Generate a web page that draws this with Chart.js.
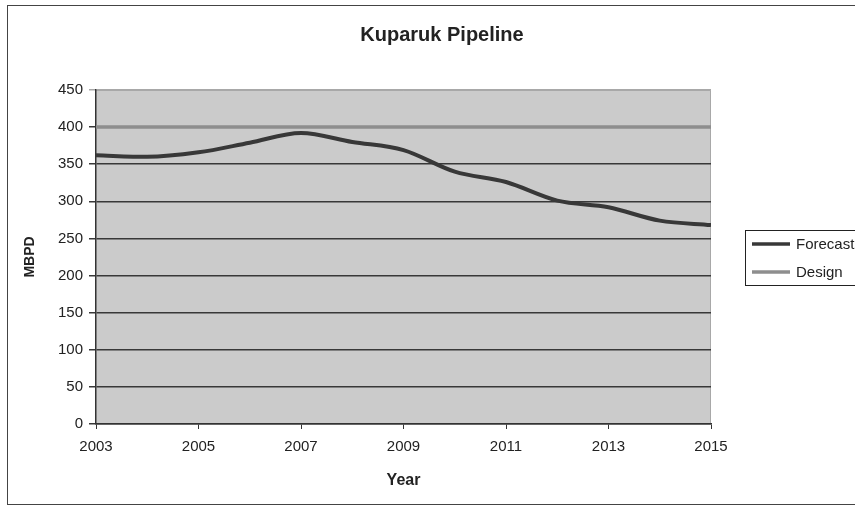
<!DOCTYPE html>
<html>
<head>
<meta charset="utf-8">
<script src="https://cdn.jsdelivr.net/npm/chart.js@4.4.0/dist/chart.umd.min.js"></script>
<style>
    html, body { margin: 0; padding: 0; background: #fff; overflow: hidden; }
    #frame {
        position: absolute;
        left: 7px;
        top: 5px;
        width: 870px;
        height: 500px;
        border: 1px solid #444;
        box-sizing: border-box;
    }
    #frame canvas { display: block; }
</style>
</head>
<body>
<div id="frame">
    <canvas id="pipelineChart" width="868" height="498"></canvas>
</div>
<script>
const years = [2003, 2004, 2005, 2006, 2007, 2008, 2009, 2010, 2011, 2012, 2013, 2014, 2015];
const forecast = [362, 360, 366, 379, 392, 380, 369, 340, 326, 301, 292, 274, 268];
const design = [400, 400, 400, 400, 400, 400, 400, 400, 400, 400, 400, 400, 400];
const yTicks = [0, 50, 100, 150, 200, 250, 300, 350, 400, 450];
const xTicks = [2003, 2005, 2007, 2009, 2011, 2013, 2015];

const seriesNames = ['Forecast', 'Design'];
const seriesColors = ['#383838', '#8e8e8e'];
const FONT = '"Liberation Sans", Arial, sans-serif';

function toPoints(values) {
    return years.map((yr, i) => ({ x: yr, y: values[i] }));
}

// gray plot area with a light top/right edge
const plotBackground = {
    id: 'plotBackground',
    beforeDraw(chart) {
        const { ctx, chartArea: a } = chart;
        ctx.save();
        ctx.fillStyle = '#cbcbcb';
        ctx.fillRect(a.left, a.top, a.right - a.left, a.bottom - a.top);
        ctx.strokeStyle = '#a8a8a8';
        ctx.lineWidth = 1;
        ctx.beginPath();
        ctx.moveTo(a.left, a.top + 0.5);
        ctx.lineTo(a.right - 0.5, a.top + 0.5);
        ctx.lineTo(a.right - 0.5, a.bottom);
        ctx.stroke();
        ctx.restore();
    }
};

// title centred on the whole chart frame, not the plot
const frameTitle = {
    id: 'frameTitle',
    afterDraw(chart) {
        const ctx = chart.ctx;
        ctx.save();
        ctx.font = 'bold 20px ' + FONT;
        ctx.fillStyle = '#222';
        ctx.textAlign = 'center';
        ctx.textBaseline = 'alphabetic';
        ctx.fillText('Kuparuk Pipeline', chart.width / 2, 35);
        ctx.restore();
    }
};

// boxed legend to the right of the plot
const boxLegend = {
    id: 'boxLegend',
    afterDraw(chart) {
        const { ctx, chartArea: a } = chart;
        const left = a.right + 34;
        const top = a.top + 140;
        const rowH = 28;
        ctx.save();
        ctx.strokeStyle = '#222';
        ctx.lineWidth = 1;
        ctx.strokeRect(left + 0.5, top + 0.5, 130, 55);
        ctx.font = '15px ' + FONT;
        ctx.textBaseline = 'middle';
        seriesNames.forEach((name, i) => {
            const y = top + 14 + i * rowH;
            ctx.strokeStyle = seriesColors[i];
            ctx.lineWidth = 3.5;
            ctx.beginPath();
            ctx.moveTo(left + 7, y);
            ctx.lineTo(left + 45, y);
            ctx.stroke();
            ctx.fillStyle = '#222';
            ctx.fillText(name, left + 51, y + 1);
        });
        ctx.restore();
    }
};

function initializeChart() {
    const ctx = document.getElementById('pipelineChart').getContext('2d');
    window.pipelineChart = new Chart(ctx, {
        type: 'line',
        data: {
            datasets: [{
                label: seriesNames[1],
                data: toPoints(design),
                borderColor: seriesColors[1],
                borderWidth: 3.5,
                pointRadius: 0,
                tension: 0
            }, {
                label: seriesNames[0],
                data: toPoints(forecast),
                borderColor: seriesColors[0],
                borderWidth: 4,
                pointRadius: 0,
                cubicInterpolationMode: 'monotone'
            }]
        },
        options: {
            responsive: false,
            animation: false,
            layout: {
                padding: { left: 0, right: 165, top: 84, bottom: 0 }
            },
            plugins: {
                legend: { display: false },
                tooltip: { enabled: false },
                title: { display: false }
            },
            scales: {
                x: {
                    type: 'linear',
                    min: years[0],
                    max: years[years.length - 1],
                    afterBuildTicks: function(axis) {
                        axis.ticks = xTicks.map(v => ({ value: v }));
                    },
                    afterFit: function(axis) {
                        axis.height = 80;
                    },
                    ticks: {
                        color: '#222',
                        padding: 9,
                        maxRotation: 0,
                        font: { family: FONT, size: 15 },
                        callback: function(value) { return String(value); }
                    },
                    grid: {
                        drawOnChartArea: false,
                        drawTicks: true,
                        tickLength: 5,
                        color: '#333'
                    },
                    border: { display: true, color: '#333', width: 1.5 },
                    title: {
                        display: true,
                        text: 'Year',
                        color: '#222',
                        font: { family: FONT, size: 16, weight: 'bold' },
                        padding: { top: 0, bottom: 14 }
                    }
                },
                y: {
                    min: 0,
                    max: 450,
                    afterBuildTicks: function(axis) {
                        axis.ticks = yTicks.map(v => ({ value: v }));
                    },
                    afterFit: function(axis) {
                        axis.width = 88;
                    },
                    ticks: {
                        color: '#222',
                        padding: 6,
                        font: { family: FONT, size: 15 }
                    },
                    grid: {
                        drawTicks: true,
                        tickLength: 7,
                        lineWidth: 1.5,
                        color: function(c) {
                            if (c.tick && c.tick.value === 450) return '#a8a8a8';
                            return '#383838';
                        }
                    },
                    border: { display: true, color: '#333', width: 1.5 },
                    title: {
                        display: true,
                        text: 'MBPD',
                        color: '#222',
                        font: { family: FONT, size: 14, weight: 'bold' },
                        padding: { top: 14, bottom: 0 }
                    }
                }
            }
        },
        plugins: [plotBackground, frameTitle, boxLegend]
    });
}

document.addEventListener('DOMContentLoaded', function() {
    initializeChart();
});
</script>
</body>
</html>
